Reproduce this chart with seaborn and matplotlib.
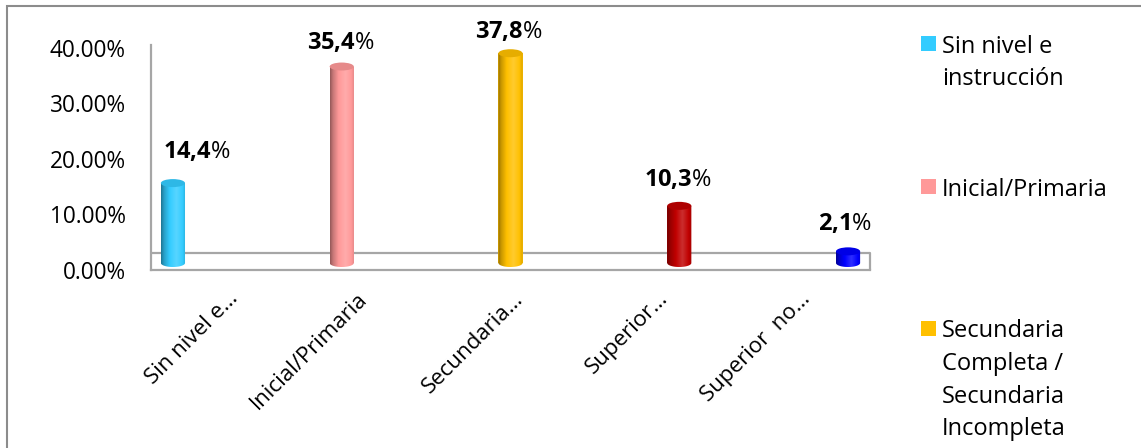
import numpy as np
import pandas as pd
import matplotlib
matplotlib.use("Agg")
import matplotlib.pyplot as plt
import seaborn as sns
from matplotlib.patches import Ellipse, Rectangle, PathPatch
from matplotlib.path import Path
from matplotlib.colors import to_rgb

# ---- data -------------------------------------------------------------
categories = ["Sin nivel e…", "Inicial/Primaria", "Secundaria…", "Superior…", "Superior  no…"]
shares = [0.144, 0.354, 0.378, 0.103, 0.021]
value_labels = ["14,4", "35,4", "37,8", "10,3", "2,1"]
colors = ["#33CCFF", "#FF9999", "#FFC000", "#C00000", "#0000FF"]
legend_labels = [
    "Sin nivel e\ninstrucción",
    "Inicial/Primaria",
    "Secundaria\nCompleta /\nSecundaria\nIncompleta",
]
y_ticks = [0.0, 0.1, 0.2, 0.3, 0.4]
y_tick_labels = ["0.00%", "10.00%", "20.00%", "30.00%", "40.00%"]

df = pd.DataFrame({"nivel": categories, "share": shares})

# ---- style ------------------------------------------------------------
sns.set_theme(style="white")
plt.rcParams["font.family"] = ["Open Sans", "DejaVu Sans"]
plt.rcParams["mathtext.fontset"] = "custom"
plt.rcParams["mathtext.rm"] = "Open Sans"
plt.rcParams["mathtext.it"] = "Open Sans:italic"
plt.rcParams["mathtext.bf"] = "Open Sans:bold"

W, H = 1141, 448
fig = plt.figure(figsize=(W / 100, H / 100), dpi=100)
fig.patch.set_facecolor("white")

# plot area in pixels: left wall at x=151, floor from x=151 to 870, y 45..270
ax = fig.add_axes([151 / W, (H - 270) / H, (870 - 151) / W, (270 - 45) / H])

floor_front = -0.0126   # front edge of the 3-D floor (data units)
floor_back = 0.018      # back edge of the 3-D floor
x_lo, x_hi = -0.13, 4.13
y_hi = 0.3928
cap_h = 0.0144          # apparent depth of the cylinder end caps
bar_w = 0.143

sns.barplot(data=df, x="nivel", y="share", hue="nivel", palette=colors,
            width=bar_w, saturation=1, legend=False, ax=ax, zorder=2)

line_col = "#A6A6A6"
for side in ["top", "right"]:
    ax.spines[side].set_visible(False)
for side in ["left", "bottom"]:
    ax.spines[side].set_color(line_col)
    ax.spines[side].set_linewidth(1.6)
ax.plot([x_lo, x_hi], [floor_back, floor_back], color=line_col, lw=1.6,
        zorder=1, solid_capstyle="butt")
ax.plot([x_hi, x_hi], [floor_front, floor_back], color=line_col, lw=1.6,
        zorder=1, clip_on=False)


def shade(rgb, k):
    rgb = np.asarray(rgb)
    if k < 0:
        return rgb * (1 + k)
    return rgb + (1 - rgb) * k


# horizontal lighting profile across a cylinder
prof_t = [0.0, 0.12, 0.35, 0.62, 0.85, 1.0]
prof_k = [-0.42, -0.22, 0.0, 0.18, 0.02, -0.15]
t = np.linspace(0, 1, 80)
kk = np.interp(t, prof_t, prof_k)

label_offsets = [(24, 31), (-1, 24), (-2, 21), (-2, 26), (-3, 27)]

bars = sorted(ax.patches, key=lambda p: p.get_x())
for i, p in enumerate(bars):
    x0, w, h = p.get_x(), p.get_width(), p.get_height()
    xc = x0 + w / 2
    base = to_rgb(colors[i])
    p.set_edgecolor("none")
    grad = np.array([[shade(base, k) for k in kk]])
    img = ax.imshow(grad, extent=(x0, x0 + w, -cap_h / 2, h), origin="lower",
                    aspect="auto", zorder=3, interpolation="bilinear")
    ang = np.linspace(np.pi, 2 * np.pi, 40)
    arc = np.column_stack([xc + w / 2 * np.cos(ang), cap_h / 2 * np.sin(ang)])
    verts = np.vstack([[x0, h], [x0, 0], arc, [x0 + w, h], [x0, h]])
    codes = [Path.MOVETO] + [Path.LINETO] * (len(verts) - 2) + [Path.CLOSEPOLY]
    clip = PathPatch(Path(verts, codes), transform=ax.transData,
                     facecolor="none", edgecolor="none")
    ax.add_patch(clip)
    img.set_clip_path(clip)
    ax.add_patch(Ellipse((xc, h), w, cap_h, facecolor=shade(base, -0.1),
                         edgecolor="none", zorder=4))
    dx, dy = label_offsets[i]
    ax.annotate(f"$\\mathbf{{{value_labels[i].replace(',', '{,}')}}}$%",
                xy=(xc, h), xytext=(dx, dy), textcoords="offset pixels",
                ha="center", va="center", fontsize=17, color="black",
                annotation_clip=False)

ax.set_xlim(x_lo, x_hi)
ax.set_ylim(floor_front, y_hi)
ax.set_yticks([v + floor_front for v in y_ticks], y_tick_labels)
ax.tick_params(axis="y", length=0, pad=18, labelsize=16.3, labelcolor="black")

# category names sit on a perspective-shifted row below the floor
label_anchor = [0.41, 1.18, 2.10, 2.96, 3.80]
ax.set_xticks(label_anchor, categories)
ax.tick_params(axis="x", length=0, pad=13, labelsize=16, labelcolor="black")
for lab in ax.get_xticklabels():
    lab.set_rotation(45)
    lab.set_ha("right")
    lab.set_va("top")
ax.set_xlabel("")
ax.set_ylabel("")

# legend keys and text at the right of the plot
legend_base = [53, 196, 338]
line_px = 32.4
for lbl, col, yb in zip(legend_labels, colors, legend_base):
    n_lines = lbl.count("\n")
    fig.patches.append(Rectangle((921 / W, (H - yb + 2) / H), 15 / W, 15 / H,
                                 transform=fig.transFigure, facecolor=col,
                                 edgecolor="none"))
    fig.text(942 / W, (H - yb - n_lines * line_px) / H, lbl, ha="left",
             va="baseline", fontsize=17, linespacing=1.48, color="black")

# chart frame
fig.patches.append(Rectangle((7 / W, -0.1), 1.2, (H - 6) / H + 0.1,
                             transform=fig.transFigure, fill=False,
                             edgecolor="#8C8C8C", linewidth=1.5))

fig.savefig("out.png", dpi=100, facecolor="white")
